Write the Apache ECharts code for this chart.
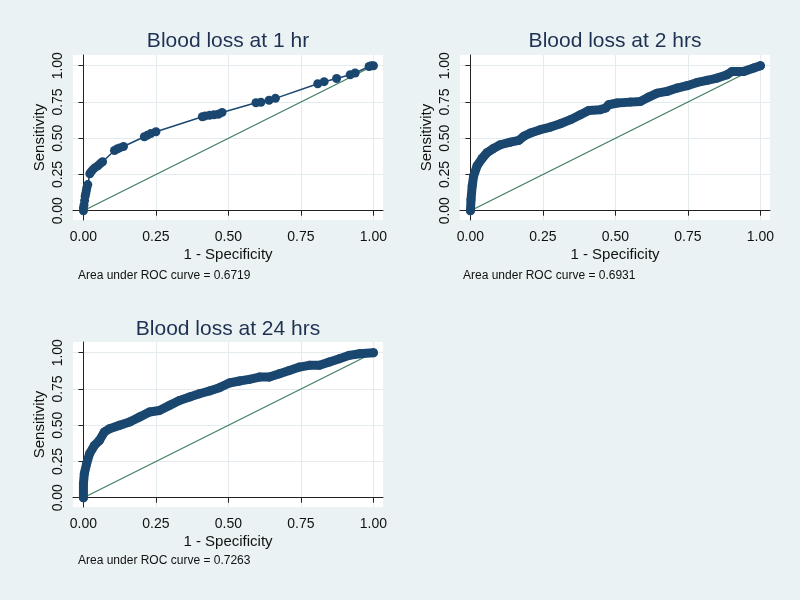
<!DOCTYPE html>
<html>
<head>
<meta charset="utf-8">
<script src="https://cdn.jsdelivr.net/npm/echarts@6/dist/echarts.min.js"></script>
<style>
  html, body { margin: 0; padding: 0; background: #eaf2f3; }
  #main { width: 800px; height: 600px; }
</style>
</head>
<body>
<div id="main"></div>
<script>
// ROC points: 1 - specificity / sensitivity
const hr1Fpr = [0, 0, 0.002, 0.004, 0.006, 0.008, 0.01, 0.012, 0.015,
  0.022, 0.026, 0.032, 0.04, 0.05, 0.058, 0.066,
  0.107, 0.115, 0.125, 0.138,
  0.21, 0.22, 0.232, 0.25,
  0.41, 0.42, 0.435, 0.45, 0.465, 0.478,
  0.595, 0.612, 0.64, 0.662,
  0.808, 0.83, 0.873, 0.92, 0.937,
  0.985, 0.992, 1]
const hr1Sens = [0, 0.02, 0.04, 0.07, 0.1, 0.12, 0.14, 0.16, 0.18,
  0.255, 0.268, 0.282, 0.297, 0.31, 0.325, 0.338,
  0.415, 0.425, 0.433, 0.443,
  0.51, 0.52, 0.532, 0.545,
  0.648, 0.654, 0.658, 0.662, 0.665, 0.678,
  0.745, 0.748, 0.762, 0.775,
  0.876, 0.89, 0.912, 0.938, 0.95,
  0.995, 1.0, 1]

const hr2Fpr = [0, 0.002, 0.006, 0.011, 0.023, 0.04, 0.057, 0.08, 0.103, 0.138,
  0.167, 0.184, 0.207, 0.241, 0.276, 0.31, 0.345, 0.379, 0.408, 0.448,
  0.466, 0.477, 0.506, 0.552, 0.586, 0.615, 0.644, 0.678, 0.713, 0.747,
  0.782, 0.816, 0.851, 0.885, 0.902, 0.943, 0.977, 1]
const hr2Sens = [0, 0.076, 0.17, 0.24, 0.31, 0.36, 0.4, 0.43, 0.455, 0.473,
  0.485, 0.513, 0.536, 0.559, 0.577, 0.6, 0.628, 0.662, 0.692, 0.697,
  0.708, 0.731, 0.743, 0.749, 0.754, 0.784, 0.811, 0.823, 0.846, 0.862,
  0.885, 0.899, 0.915, 0.938, 0.961, 0.961, 0.984, 1]

const hr24Fpr = [0, 0, 0.003, 0.011, 0.021, 0.038, 0.055, 0.072, 0.09, 0.124,
  0.159, 0.193, 0.228, 0.262, 0.297, 0.331, 0.366, 0.4, 0.434, 0.469,
  0.503, 0.538, 0.572, 0.607, 0.641, 0.676, 0.71, 0.745, 0.779, 0.814,
  0.848, 0.883, 0.917, 0.952, 1]
const hr24Sens = [0, 0.097, 0.166, 0.234, 0.303, 0.361, 0.395, 0.453, 0.476, 0.499,
  0.522, 0.556, 0.591, 0.602, 0.637, 0.671, 0.694, 0.717, 0.736, 0.759,
  0.791, 0.805, 0.816, 0.832, 0.832, 0.855, 0.878, 0.901, 0.913, 0.913,
  0.936, 0.959, 0.982, 0.993, 1]

const panelTitles = ['Blood loss at 1 hr', 'Blood loss at 2 hrs', 'Blood loss at 24 hrs']
const aucLabels = ['Area under ROC curve = 0.6719', 'Area under ROC curve = 0.6931', 'Area under ROC curve = 0.7263']
const tickValues = [0, 0.25, 0.5, 0.75, 1]

const navy = '#1a476f'
const green = '#3b7c5c'
const font = 'Liberation Sans, Arial, Helvetica, sans-serif'

const zip = (xs, ys) => xs.map((x, i) => [x, ys[i]])

// plot region boxes [left, top]
const boxes = [[73, 55], [460, 55], [73, 342]]
const W = 310
const H = 165

const grids = boxes.map(b => ({
  left: b[0], top: b[1], width: W, height: H,
  show: true, backgroundColor: '#ffffff', borderWidth: 0
}))

const axisCommon = {
  type: 'value',
  axisLine: { show: true, lineStyle: { color: '#222', width: 1 } },
  axisTick: { show: true, length: 5, customValues: tickValues, lineStyle: { color: '#222' } },
  splitLine: { show: true, lineStyle: { color: '#e3ebee', width: 1 } },
  nameLocation: 'middle',
  nameTextStyle: { fontFamily: font, fontSize: 15, color: '#111' }
}

const xAxes = boxes.map((b, i) => Object.assign({}, axisCommon, {
  gridIndex: i,
  min: -0.036, max: 1.033,
  name: '1 - Specificity',
  nameGap: 27,
  axisLabel: {
    customValues: tickValues, margin: 10,
    fontFamily: font, fontSize: 14, color: '#111',
    formatter: v => v.toFixed(2)
  }
}))

const yAxes = boxes.map((b, i) => Object.assign({}, axisCommon, {
  gridIndex: i,
  min: -0.064, max: 1.074,
  name: 'Sensitivity',
  nameRotate: 90,
  nameGap: 26,
  axisLabel: {
    customValues: tickValues, margin: 8, rotate: 90,
    fontFamily: font, fontSize: 14, color: '#111',
    formatter: v => v.toFixed(2)
  }
}))

const curves = [zip(hr1Fpr, hr1Sens), zip(hr2Fpr, hr2Sens), zip(hr24Fpr, hr24Sens)]
const lineWidths = [1.5, 9, 9]

const series = []
curves.forEach((c, i) => {
  series.push({
    type: 'line',
    xAxisIndex: i, yAxisIndex: i,
    data: [[0, 0], [1, 1]],
    symbol: 'none',
    lineStyle: { color: green, width: 1.2 },
    z: 2
  })
  series.push({
    type: 'line',
    xAxisIndex: i, yAxisIndex: i,
    data: c,
    symbol: 'circle',
    symbolSize: 9,
    showAllSymbol: true,
    itemStyle: { color: navy },
    lineStyle: { color: navy, width: lineWidths[i], join: 'round', cap: 'round' },
    z: 3
  })
})

const titlePos = [[228, 41], [615, 41], [228, 329]]
const aucPos = [[78, 276], [463, 276], [78, 561]]

const graphics = []
panelTitles.forEach((t, i) => {
  graphics.push({
    type: 'text', x: titlePos[i][0], y: titlePos[i][1],
    style: { text: t, fontFamily: font, fontSize: 21, fill: '#1e3152', align: 'center', verticalAlign: 'middle' }
  })
  graphics.push({
    type: 'text', x: aucPos[i][0], y: aucPos[i][1],
    style: { text: aucLabels[i], fontFamily: font, fontSize: 12, fill: '#111', align: 'left', verticalAlign: 'middle' }
  })
})

const chart = echarts.init(document.getElementById('main'))
chart.setOption({
  backgroundColor: '#eaf2f3',
  animation: false,
  grid: grids,
  xAxis: xAxes,
  yAxis: yAxes,
  series: series,
  graphic: graphics
})
</script>
</body>
</html>
